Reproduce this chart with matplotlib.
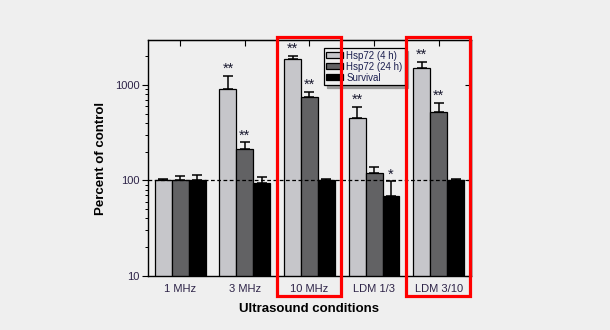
import numpy as np
import matplotlib.pyplot as plt
from matplotlib.patches import Rectangle
from matplotlib.transforms import blended_transform_factory

plt.rcParams['font.family'] = ['Liberation Sans', 'DejaVu Sans']

# Ultrasound conditions and response (% of control)
conditions = ['1 MHz', '3 MHz', '10 MHz', 'LDM 1/3', 'LDM 3/10']
series_names = ['Hsp72 (4 h)', 'Hsp72 (24 h)', 'Survival']
hsp_4h = [101, 900, 1850, 450, 1490]
hsp_24h = [101, 215, 750, 120, 525]
survival = [102, 95, 101, 69, 101]
hsp_4h_err = [3, 350, 150, 135, 260]
hsp_24h_err = [10, 36, 90, 20, 125]
survival_err = [13, 13, 2, 29, 2]
hsp_4h_sig = ['', '**', '**', '**', '**']
hsp_24h_sig = ['', '**', '**', '', '**']
survival_sig = ['', '', '', '*', '']
highlighted = ['10 MHz', 'LDM 3/10']

colors = ['#c6c6ca', '#626264', '#000000']
bg = '#efefef'
label_color = '#2e2448'

fig = plt.figure(figsize=(6.1, 3.3), dpi=100, facecolor=bg)
ax = fig.add_axes([0.2426, 0.1636, 0.5295, 0.715], facecolor=bg)

x = np.arange(len(conditions))
width = 0.262
values = [hsp_4h, hsp_24h, survival]
errors = [hsp_4h_err, hsp_24h_err, survival_err]
stars = [hsp_4h_sig, hsp_24h_sig, survival_sig]

for k in range(3):
    pos = x + (k - 1) * width
    ax.bar(pos, values[k], width, color=colors[k], edgecolor='black',
           linewidth=0.9, label=series_names[k], zorder=2)
    ax.errorbar(pos, values[k], yerr=[np.zeros(len(x)), errors[k]],
                fmt='none', ecolor='black', elinewidth=1.1, capsize=3.8,
                capthick=1.1, zorder=3)
    for p, v, e, s in zip(pos, values[k], errors[k], stars[k]):
        if s:
            ax.annotate(s, (p, v + e), xytext=(0, 0), textcoords='offset points',
                        ha='center', va='bottom', fontsize=10.5, color='#1a1a30')

ax.axhline(100, color='black', linestyle=(0, (3, 2)), linewidth=0.9, zorder=4)

ax.set_yscale('log')
ax.set_ylim(10, 2950)
ax.set_xlim(-0.5, 4.5)
ax.set_yticks([10, 100, 1000])
ax.set_yticklabels(['10', '100', '1000'])
ax.set_xticks(x)
ax.set_xticklabels(conditions)
ax.tick_params(axis='y', which='major', direction='out', length=4, width=0.8,
               labelsize=8, labelcolor=label_color, pad=2)
ax.tick_params(axis='y', which='minor', direction='out', length=2.5, width=0.7)
ax.tick_params(axis='x', direction='in', length=0, labelsize=8,
               labelcolor=label_color, pad=6)
for sp in ax.spines.values():
    sp.set_linewidth(1.0)

top = ax.secondary_xaxis('top')
top.set_xticks(x)
top.set_xticklabels([])
top.tick_params(direction='in', length=4, width=0.8)
right = ax.secondary_yaxis('right')
right.set_yticks([10, 100, 1000])
right.set_yticklabels([])
right.tick_params(which='major', direction='in', length=4, width=0.8)
right.tick_params(which='minor', length=0)

ax.set_xlabel('Ultrasound conditions', fontsize=9.5, fontweight='bold', labelpad=6)
ax.set_ylabel('Percent of control', fontsize=9.5, fontweight='bold', labelpad=6)

leg = ax.legend(loc='upper left', bbox_to_anchor=(0.545, 0.966), borderaxespad=0,
                fontsize=7, frameon=True, fancybox=False,
                shadow={'color': '#9a9a9a', 'alpha': 1.0},
                handlelength=1.75, handleheight=0.55, handletextpad=0.3,
                labelspacing=0.12, borderpad=0.25)
leg.get_frame().set_edgecolor('black')
leg.get_frame().set_linewidth(0.9)
leg.get_frame().set_facecolor(bg)
for t in leg.get_texts():
    t.set_color('#1c2050')

# red outlines around the highlighted conditions
trans = blended_transform_factory(ax.transData, ax.transAxes)
for name in highlighted:
    i = conditions.index(name)
    ax.add_patch(Rectangle((i - 0.5, -0.083), 0.99, 1.094, transform=trans,
                           fill=False, edgecolor='#ff0000', linewidth=2.3,
                           clip_on=False, zorder=10))

fig.savefig('out.png', dpi=100, facecolor=bg)
